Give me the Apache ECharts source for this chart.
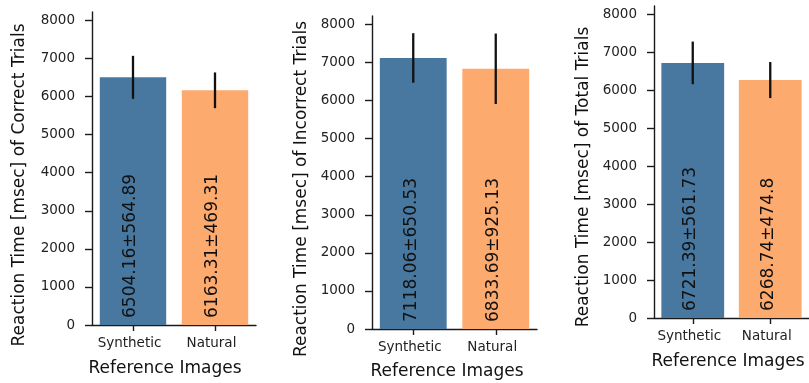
<!DOCTYPE html>
<html>
<head>
<meta charset="utf-8">
<script src="https://cdn.jsdelivr.net/npm/echarts@6/dist/echarts.min.js"></script>
<style>
html,body{margin:0;padding:0;background:#fff;}
#chart{width:809px;height:383px;}
</style>
</head>
<body>
<div id="chart"></div>
<script>
const categories = ['Synthetic', 'Natural'];
const yTicks = [0, 1000, 2000, 3000, 4000, 5000, 6000, 7000, 8000];

const correctMeans = [6504.16, 6163.31];
const correctErrs = [564.89, 469.31];
const incorrectMeans = [7118.06, 6833.69];
const incorrectErrs = [650.53, 925.13];
const totalMeans = [6721.39, 6268.74];
const totalErrs = [561.73, 474.8];

const yTitles = [
  'Reaction Time [msec] of Correct Trials',
  'Reaction Time [msec] of Incorrect Trials',
  'Reaction Time [msec] of Total Trials'
];
const xTitle = 'Reference Images';

const barColors = ['#48789f', '#fdaa6e'];
const FONT = 'DejaVu Sans';

const panels = [
  {means: correctMeans, errs: correctErrs},
  {means: incorrectMeans, errs: incorrectErrs},
  {means: totalMeans, errs: totalErrs}
];
const grids = [
  {left: 92, top: 12, width: 164, height: 313},
  {left: 372, top: 16, width: 165, height: 313},
  {left: 654, top: 6, width: 165, height: 312}
];
const yTitlePos = [[20, 185], [302, 189], [584, 177]];
const xTitlePos = [[165, 369], [447, 372], [728, 362]];

const option = {
  animation: false,
  backgroundColor: '#fff',
  grid: grids.map(g => Object.assign({containLabel: false}, g)),
  xAxis: panels.map((p, i) => ({
    type: 'category',
    gridIndex: i,
    data: categories,
    boundaryGap: true,
    axisLine: {show: true, lineStyle: {color: '#1a1a1a', width: 1.4}},
    axisTick: {show: true, alignWithLabel: true, interval: 0, length: 6, lineStyle: {color: '#1a1a1a', width: 1.4}},
    axisLabel: {color: '#222', fontFamily: FONT, fontSize: 13.5, margin: 11, interval: 0, hideOverlap: false, padding: [0, 7, 0, 0]},
    splitLine: {show: false}
  })),
  yAxis: panels.map((p, i) => ({
    type: 'value',
    gridIndex: i,
    min: 0,
    max: 8220,
    axisLine: {show: true, lineStyle: {color: '#1a1a1a', width: 1.4}},
    axisTick: {show: true, length: 7, customValues: yTicks, lineStyle: {color: '#1a1a1a', width: 1.4}},
    axisLabel: {color: '#222', fontFamily: FONT, fontSize: 13.5, margin: 17, customValues: yTicks,
      formatter: v => String(v)},
    splitLine: {show: false}
  })),
  series: [],
  graphic: []
};

panels.forEach((p, i) => {
  option.series.push({
    type: 'bar',
    xAxisIndex: i,
    yAxisIndex: i,
    barCategoryGap: '19%',
    data: p.means.map((m, j) => ({
      value: m,
      itemStyle: {color: barColors[j]},
      label: {
        show: true,
        position: 'insideBottom',
        distance: 7,
        offset: [0, -2],
        rotate: 90,
        align: 'left',
        verticalAlign: 'middle',
        color: '#111',
        fontFamily: FONT,
        fontSize: 17,
        formatter: String(m) + '±' + String(p.errs[j])
      }
    }))
  });
  option.series.push({
    type: 'custom',
    xAxisIndex: i,
    yAxisIndex: i,
    encode: {x: 0, y: [1, 2]},
    data: p.means.map((m, j) => [j, m - p.errs[j], m + p.errs[j]]),
    renderItem: function (params, api) {
      const x = api.value(0);
      const lo = api.coord([x, api.value(1)]);
      const hi = api.coord([x, api.value(2)]);
      return {
        type: 'line',
        shape: {x1: lo[0], y1: lo[1], x2: hi[0], y2: hi[1]},
        style: {stroke: '#111', lineWidth: 2.3}
      };
    },
    z: 5
  });
  option.graphic.push({
    type: 'text',
    x: yTitlePos[i][0],
    y: yTitlePos[i][1],
    rotation: Math.PI / 2,
    style: {
      text: yTitles[i],
      font: '17px "DejaVu Sans"',
      fill: '#111',
      align: 'center',
      verticalAlign: 'middle'
    }
  });
  option.graphic.push({
    type: 'text',
    x: xTitlePos[i][0],
    y: xTitlePos[i][1],
    style: {
      text: xTitle,
      font: '17px "DejaVu Sans"',
      fill: '#111',
      align: 'center',
      verticalAlign: 'middle'
    }
  });
});

const chart = echarts.init(document.getElementById('chart'), null, {renderer: 'canvas'});
chart.setOption(option);
</script>
</body>
</html>
